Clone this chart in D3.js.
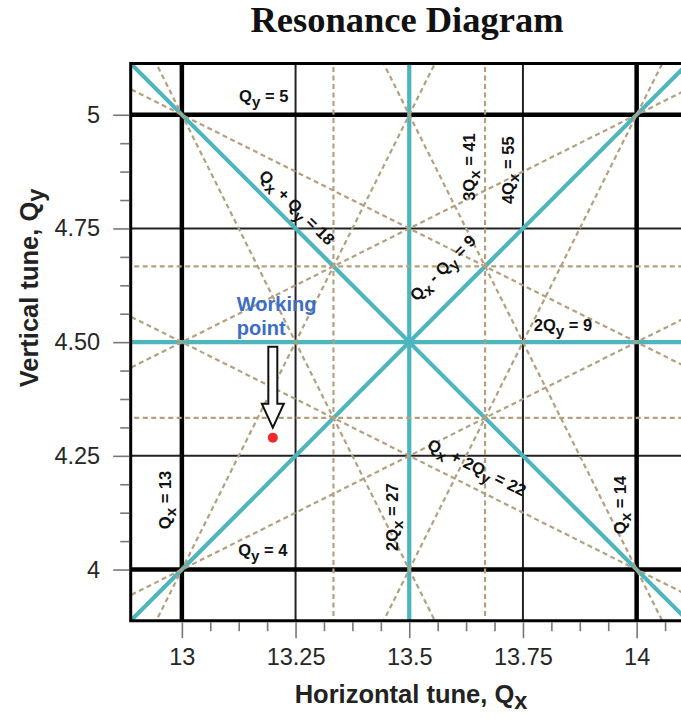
<!DOCTYPE html>
<html><head><meta charset="utf-8">
<script src="https://cdn.jsdelivr.net/npm/d3@7"></script>
<style>body{margin:0;background:#fff}svg{display:block}</style>
</head><body><svg id="chart" width="681" height="719"></svg>
<script>
// Tune-space window
const qxDomain = [12.8875, 14.1125];
const qyDomain = [3.8875, 5.1125];

// Integer resonances (thick black)
const integerQx = [13, 14];
const integerQy = [4, 5];
// Quarter-integer resonances (thin black)
const quarterQx = [13.25, 13.75];
const quarterQy = [4.25, 4.75];
// Half-integer resonances (teal)
const halfQx = [13.5];
const halfQy = [4.5];
// Coupled second-order lines a*Qx + b*Qy = c (teal)
const secondOrderLines = [[1, 1, 18], [1, -1, 9]];
// Third-order resonances (dashed)
const thirdQx = [40 / 3, 41 / 3];
const thirdQy = [13 / 3, 14 / 3];
const thirdOrderLines = [[1, 2, 22], [1, 2, 23], [1, -2, 4], [1, -2, 5],
                         [2, 1, 31], [2, 1, 32], [2, -1, 22], [2, -1, 23]];

// Axis ticks
const qxTicks = [13, 13.25, 13.5, 13.75, 14];
const qxTickLabels = ["13", "13.25", "13.5", "13.75", "14"];
const qxMinorTicks = [13.0625, 13.125, 13.1875, 13.3125, 13.375, 13.4375,
                      13.5625, 13.625, 13.6875, 13.8125, 13.875, 13.9375, 14.0625];
const qyTicks = [5, 4.75, 4.5, 4.25, 4];
const qyTickLabels = ["5", "4.75", "4.50", "4.25", "4"];
const qyMinorTicks = [4.0625, 4.125, 4.1875, 4.3125, 4.375, 4.4375,
                      4.5625, 4.625, 4.6875, 4.8125, 4.875, 4.9375];

// Machine working point
const workingPoint = { qx: 13.2, qy: 4.29 };

// Resonance line labels: text pieces ("sub" marks a subscript)
const resonanceLabels = [
  { parts: [["Q"], ["y", "sub"], [" = 5"]], qx: 13.18, qy: 5.039, angle: 0 },
  { parts: [["Q"], ["y", "sub"], [" = 4"]], qx: 13.178, qy: 4.041, angle: 0 },
  { parts: [["Q"], ["x", "sub"], [" = 13"]], qx: 12.965, qy: 4.153, angle: -90 },
  { parts: [["Q"], ["x", "sub"], [" = 14"]], qx: 13.965, qy: 4.142, angle: -90 },
  { parts: [["2Q"], ["x", "sub"], [" = 27"]], qx: 13.464, qy: 4.115, angle: -90 },
  { parts: [["3Q"], ["x", "sub"], [" = 41"]], qx: 13.633, qy: 4.885, angle: -90 },
  { parts: [["4Q"], ["x", "sub"], [" = 55"]], qx: 13.719, qy: 4.878, angle: -90 },
  { parts: [["2Q"], ["y", "sub"], [" = 9"]], qx: 13.838, qy: 4.535, angle: 0 },
  { parts: [["Q"], ["x", "sub"], [" + Q"], ["y", "sub"], [" = 18"]], qx: 13.252, qy: 4.795, angle: 45 },
  { parts: [["Q"], ["x", "sub"], [" - Q"], ["y", "sub"], [" = 9"]], qx: 13.575, qy: 4.662, angle: -45 },
  { parts: [["Q"], ["x", "sub"], [" + 2Q"], ["y", "sub"], [" = 22"]], qx: 13.648, qy: 4.223, angle: 26.6 }
];

const W = 681, H = 719;
const plot = { left: 130.7, right: 687.8, top: 63.6, bottom: 620.7 };
const TEAL = "#4cb5be", TAN = "#b3a07f", BLUE = "#3c6ec6";

const x = d3.scaleLinear().domain(qxDomain).range([plot.left, plot.right]);
const y = d3.scaleLinear().domain(qyDomain).range([plot.bottom, plot.top]);

const svg = d3.select("#chart");

svg.append("defs").append("clipPath").attr("id", "plot-clip")
  .append("rect")
  .attr("x", plot.left).attr("y", plot.top)
  .attr("width", plot.right - plot.left).attr("height", plot.bottom - plot.top);

const area = svg.append("g").attr("clip-path", "url(#plot-clip)");

function vLines(values, cls, color, width, dash) {
  area.selectAll("line." + cls).data(values).join("line")
    .attr("class", cls)
    .attr("x1", d => x(d)).attr("x2", d => x(d))
    .attr("y1", plot.top - 5).attr("y2", plot.bottom + 5)
    .attr("stroke", color).attr("stroke-width", width)
    .attr("stroke-dasharray", dash || null);
}
function hLines(values, cls, color, width, dash) {
  area.selectAll("line." + cls).data(values).join("line")
    .attr("class", cls)
    .attr("y1", d => y(d)).attr("y2", d => y(d))
    .attr("x1", plot.left - 5).attr("x2", plot.right + 5)
    .attr("stroke", color).attr("stroke-width", width)
    .attr("stroke-dasharray", dash || null);
}
// a*Qx + b*Qy = c, drawn across the window and clipped
function diagLines(values, cls, color, width, dash) {
  const q0 = qxDomain[0] - 0.5, q1 = qxDomain[1] + 0.5;
  area.selectAll("line." + cls).data(values).join("line")
    .attr("class", cls)
    .attr("x1", x(q0)).attr("x2", x(q1))
    .attr("y1", ([a, b, c]) => y((c - a * q0) / b))
    .attr("y2", ([a, b, c]) => y((c - a * q1) / b))
    .attr("stroke", color).attr("stroke-width", width)
    .attr("stroke-dasharray", dash || null);
}

// grid of integer / quarter-integer lines
vLines(quarterQx, "qx-quarter", "#222", 2);
hLines(quarterQy, "qy-quarter", "#222", 2);
vLines(integerQx, "qx-int", "#000", 4.5);
hLines(integerQy, "qy-int", "#000", 4.5);

// second-order lines
vLines(halfQx, "qx-half", TEAL, 4.2);
hLines(halfQy, "qy-half", TEAL, 4.2);
diagLines(secondOrderLines, "second", TEAL, 4.2);

// third-order lines
const dash = "5,3.5";
vLines(thirdQx, "qx-third", TAN, 2.2, dash);
hLines(thirdQy, "qy-third", TAN, 2.2, dash);
diagLines(thirdOrderLines, "third", TAN, 2.2, dash);

// frame
svg.append("path")
  .attr("d", `M${W + 10},${plot.top}H${plot.left}V${plot.bottom}H${W + 10}`)
  .attr("fill", "none").attr("stroke", "#000").attr("stroke-width", 3);

// axes
const tickFont = "'Liberation Sans', Arial, sans-serif";
const xAxis = svg.append("g").attr("transform", `translate(0,${plot.bottom + 1.5})`);
xAxis.call(d3.axisBottom(x).tickValues(qxMinorTicks).tickSize(9).tickFormat(""));
xAxis.call(g => g.select(".domain").remove());
const xMajor = svg.append("g").attr("transform", `translate(0,${plot.bottom + 1.5})`)
  .call(d3.axisBottom(x).tickValues(qxTicks).tickSize(16).tickPadding(10)
    .tickFormat((d, i) => qxTickLabels[i]));
xMajor.select(".domain").remove();

const yAxis = svg.append("g").attr("transform", `translate(${plot.left - 1.5},0)`);
yAxis.call(d3.axisLeft(y).tickValues(qyMinorTicks).tickSize(9).tickFormat(""));
yAxis.call(g => g.select(".domain").remove());
const yMajor = svg.append("g").attr("transform", `translate(${plot.left - 1.5},0)`)
  .call(d3.axisLeft(y).tickValues(qyTicks).tickSize(16).tickPadding(13)
    .tickFormat((d, i) => qyTickLabels[i]));
yMajor.select(".domain").remove();

svg.selectAll(".tick line").attr("stroke", "#777").attr("stroke-width", 1.6);
svg.selectAll(".tick text").attr("font-family", tickFont).attr("font-size", 23.5)
  .attr("fill", "#262626");

// rich text helper with subscripts
function richText(g, parts, size, subDy) {
  const t = g.append("text");
  let down = false;
  parts.forEach(([s, kind]) => {
    const sp = t.append("tspan").text(s);
    if (kind === "sub") {
      sp.attr("dy", subDy).attr("font-size", size * 0.92);
      down = true;
    } else if (down) {
      sp.attr("dy", -subDy);
      down = false;
    }
  });
  return t;
}

// resonance labels
const labelFont = "'Liberation Sans', Arial, sans-serif";
resonanceLabels.forEach(l => {
  const g = svg.append("g")
    .attr("transform", `translate(${x(l.qx)},${y(l.qy)}) rotate(${l.angle})`);
  richText(g, l.parts, 16.5, 5)
    .attr("text-anchor", "middle").attr("dy", "0.3em")
    .attr("font-family", labelFont).attr("font-weight", "bold")
    .attr("font-size", 16.5).attr("fill", "#111");
});

// working point marker, arrow and caption
const wx = x(workingPoint.qx), wy = y(workingPoint.qy);
svg.append("path")
  .attr("d", `M${wx},${wy - 10}L${wx - 11},${wy - 34}L${wx - 4.5},${wy - 34}` +
    `L${wx - 4.5},${wy - 91}L${wx + 4.5},${wy - 91}L${wx + 4.5},${wy - 34}L${wx + 11},${wy - 34}Z`)
  .attr("fill", "#fff").attr("stroke", "#111").attr("stroke-width", 2)
  .attr("stroke-linejoin", "miter");
svg.append("circle").attr("cx", wx).attr("cy", wy).attr("r", 5).attr("fill", "#f42a2a");

const caption = svg.append("text")
  .attr("font-family", labelFont).attr("font-weight", "bold").attr("font-size", 20)
  .attr("fill", BLUE);
caption.append("tspan").attr("x", wx - 36).attr("y", wy - 127).text("Working");
caption.append("tspan").attr("x", wx - 36).attr("y", wy - 103).text("point");

// title
svg.append("text")
  .attr("x", 407).attr("y", 32).attr("text-anchor", "middle")
  .attr("font-family", "'Liberation Serif', 'Times New Roman', serif")
  .attr("font-weight", "bold").attr("font-size", 36.5).attr("fill", "#111")
  .text("Resonance Diagram");

// axis titles
const xt = svg.append("g").attr("transform", `translate(411,703)`);
richText(xt, [["Horizontal tune, Q"], ["x", "sub"]], 25.5, 6)
  .attr("text-anchor", "middle").attr("font-family", labelFont)
  .attr("font-weight", "bold").attr("font-size", 25.5).attr("fill", "#222");

const yt = svg.append("g").attr("transform", `translate(38,288) rotate(-90)`);
richText(yt, [["Vertical tune, Q"], ["y", "sub"]], 25.5, 6)
  .attr("text-anchor", "middle").attr("font-family", labelFont)
  .attr("font-weight", "bold").attr("font-size", 25.5).attr("fill", "#222");
</script>
</body></html>
